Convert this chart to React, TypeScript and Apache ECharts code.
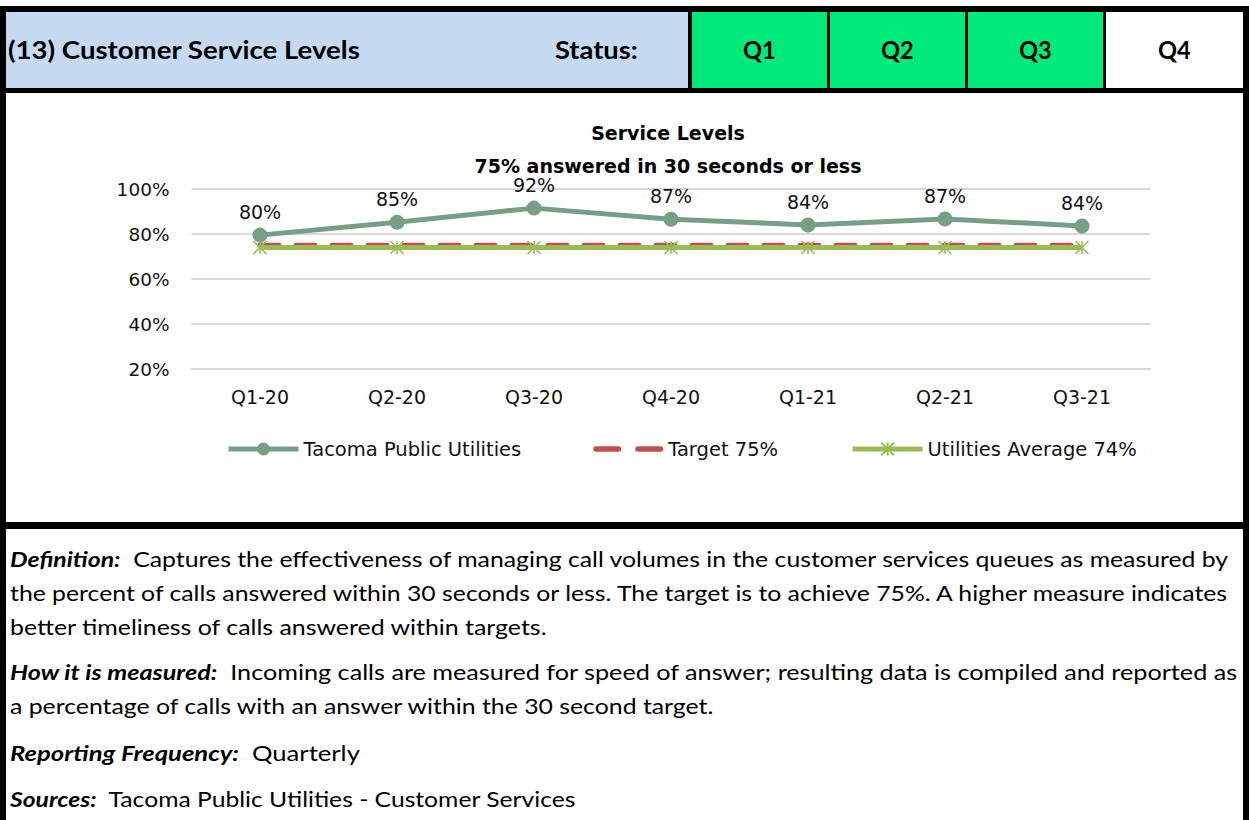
import React, { useEffect, useLayoutEffect, useRef } from "react";
import * as echarts from "echarts";

const categories = ["Q1-20", "Q2-20", "Q3-20", "Q4-20", "Q1-21", "Q2-21", "Q3-21"];
const tacomaValues = [79.5, 85.2, 91.5, 86.6, 84.0, 86.7, 83.6];
const targetValues = [75, 75, 75, 75, 75, 75, 75];
const utilitiesAvgValues = [74, 74, 74, 74, 74, 74, 74];
const seriesNames = ["Tacoma Public Utilities", "Target 75%", "Utilities Average 74%"];
const titleLines = ["Service Levels", "75% answered in 30 seconds or less"];
const quarters = ["Q1", "Q2", "Q3", "Q4"];
const quarterColors = ["#00EA7A", "#00EA7A", "#00EA7A", "#FFFFFF"];

const HTML_FONT = "Lato, 'Noto Sans', sans-serif";
const CHART_FONT = "'DejaVu Sans', 'Noto Sans', sans-serif";
const ASTERISK = "path://M0,0L10,10M10,0L0,10M5,0L5,10";
const TWO_DASHES =
  "path://M2.5,0H23.5A2.5,2.5,0,0,1,23.5,5H2.5A2.5,2.5,0,0,1,2.5,0ZM41.5,0H62.5A2.5,2.5,0,0,1,62.5,5H41.5A2.5,2.5,0,0,1,41.5,0Z";

function Chart() {
  const ref = useRef<HTMLDivElement>(null);
  useEffect(() => {
    if (!ref.current) return;
    const chart = echarts.init(ref.current, undefined, { renderer: "svg" });
    const titleStyle = (text: string) => ({
      text,
      fontFamily: CHART_FONT,
      fontSize: 19,
      fontWeight: "bold",
      fill: "#000",
      textAlign: "center",
      textVerticalAlign: "middle",
    });
    chart.setOption({
      animation: false,
      textStyle: { fontFamily: CHART_FONT },
      graphic: [
        { type: "text", x: 662, y: 40, style: titleStyle(titleLines[0]) },
        { type: "text", x: 662, y: 73, style: titleStyle(titleLines[1]) },
      ],
      grid: { left: 185.5, right: 92.5, top: 96, bottom: 153, containLabel: false },
      legend: {
        left: 215,
        top: 341,
        itemWidth: 70,
        itemHeight: 16,
        itemGap: 72,
        lineStyle: { width: 5 },
        textStyle: { fontSize: 19.5, color: "#111", fontFamily: CHART_FONT },
        data: [
          { name: seriesNames[0] },
          { name: seriesNames[1], icon: TWO_DASHES },
          { name: seriesNames[2] },
        ],
      },
      xAxis: {
        type: "category",
        data: categories,
        boundaryGap: true,
        axisLine: { lineStyle: { color: "#D9D9D9", width: 2 } },
        axisTick: { show: false },
        axisLabel: { fontSize: 19, color: "#111", margin: 18, fontFamily: CHART_FONT },
      },
      yAxis: {
        type: "value",
        min: 20,
        max: 100,
        interval: 20,
        axisLine: { show: false },
        axisTick: { show: false },
        axisLabel: { fontSize: 18.5, color: "#111", margin: 22, formatter: "{value}%", fontFamily: CHART_FONT },
        splitLine: { lineStyle: { color: "#D9D9D9", width: 2 } },
      },
      series: [
        {
          name: seriesNames[0],
          type: "line",
          data: tacomaValues,
          z: 5,
          symbol: "circle",
          symbolSize: 15,
          lineStyle: { color: "#779E88", width: 5 },
          itemStyle: { color: "#779E88" },
          label: {
            show: true,
            position: "top",
            distance: 6,
            fontSize: 19,
            color: "#111",
            fontFamily: CHART_FONT,
            formatter: (p: any) => Math.round(p.value) + "%",
          },
        },
        {
          name: seriesNames[1],
          type: "line",
          data: targetValues,
          z: 2,
          symbol: "none",
          lineStyle: { color: "#C0504D", width: 5, type: [19, 17], cap: "round" },
          itemStyle: { color: "#C0504D" },
        },
        {
          name: seriesNames[2],
          type: "line",
          data: utilitiesAvgValues,
          z: 3,
          symbol: ASTERISK,
          symbolSize: 13,
          lineStyle: { color: "#9BBB59", width: 5 },
          itemStyle: { color: "#9BBB59", borderColor: "#9BBB59", borderWidth: 1.6 },
        },
      ],
    });
    return () => chart.dispose();
  }, []);
  return <div ref={ref} style={{ position: "absolute", left: 6, top: 93, width: 1237, height: 429 }} />;
}

// Text whose rendered width is fitted to the width.
function FitText(props: {
  left: number;
  centerY: number;
  width: number;
  fontSize: number;
  bold?: boolean;
  origin?: "left" | "center";
  children: React.ReactNode;
}) {
  const spanRef = useRef<HTMLSpanElement>(null);
  useLayoutEffect(() => {
    const el = spanRef.current;
    if (!el) return;
    el.style.transform = "none";
    const w = el.offsetWidth;
    if (w > 0) el.style.transform = `scaleX(${props.width / w})`;
  });
  const lh = Math.round(props.fontSize * 1.4);
  const center = props.origin === "center";
  return (
    <div
      style={{
        position: "absolute",
        left: center ? props.left - 200 : props.left,
        width: center ? 400 : undefined,
        textAlign: center ? "center" : "left",
        top: props.centerY - lh / 2,
        lineHeight: lh + "px",
        fontSize: props.fontSize,
        fontWeight: props.bold ? "bold" : "normal",
        whiteSpace: "pre",
      }}
    >
      <span
        ref={spanRef}
        style={{ display: "inline-block", transformOrigin: center ? "center" : "left" }}
      >
        {props.children}
      </span>
    </div>
  );
}

const abs = (l: number, t: number, w: number, h: number, bg: string): React.CSSProperties => ({
  position: "absolute",
  left: l,
  top: t,
  width: w,
  height: h,
  background: bg,
});

const textLines: { y: number; end: number; bold?: string; text: string }[] = [
  { y: 558, end: 1228, bold: "Definition:", text: "  Captures the effectiveness of managing call volumes in the customer services queues as measured by" },
  { y: 592, end: 1227, text: "the percent of calls answered within 30 seconds or less. The target is to achieve 75%. A higher measure indicates" },
  { y: 626, end: 547, text: "better timeliness of calls answered within targets." },
  { y: 671, end: 1237, bold: "How it is measured:", text: "  Incoming calls are measured for speed of answer; resulting data is compiled and reported as" },
  { y: 705, end: 713, text: "a percentage of calls with an answer within the 30 second target." },
  { y: 752, end: 360, bold: "Reporting Frequency:", text: "  Quarterly" },
  { y: 798, end: 575, bold: "Sources:", text: "  Tacoma Public Utilities - Customer Services" },
];

export default function App() {
  const qCells = [
    [692, 135],
    [830, 135],
    [968, 135],
    [1106, 137],
  ];
  return (
    <div
      style={{
        position: "absolute",
        left: 0,
        top: 0,
        width: 1249,
        height: 820,
        background: "#fff",
        overflow: "hidden",
        fontFamily: HTML_FONT,
        color: "#000",
      }}
    >
      <div style={abs(0, 6, 1249, 6, "#000")} />
      <div style={abs(0, 6, 6, 814, "#000")} />
      <div style={abs(1243, 6, 6, 814, "#000")} />
      <div style={abs(6, 12, 682, 76, "#C5D9F1")} />
      <div style={abs(688, 12, 4, 76, "#000")} />
      {qCells.map(([x, w], i) => (
        <div key={i} style={abs(x, 12, w, 76, quarterColors[i])} />
      ))}
      {qCells.map(([x, w], i) => (
        <FitText key={"q" + i} left={x + w / 2} centerY={49} width={33} fontSize={25} bold origin="center">
          {quarters[i]}
        </FitText>
      ))}
      <div style={abs(827, 12, 3, 76, "#000")} />
      <div style={abs(965, 12, 3, 76, "#000")} />
      <div style={abs(1103, 12, 3, 76, "#000")} />
      <FitText left={8} centerY={49} width={352} fontSize={25} bold>
        (13) Customer Service Levels
      </FitText>
      <FitText left={555} centerY={49} width={83} fontSize={25} bold>
        Status:
      </FitText>
      <div style={abs(0, 88, 1249, 5, "#000")} />
      <Chart />
      <div style={abs(0, 522, 1249, 7, "#000")} />
      {textLines.map((l, i) => (
        <FitText key={i} left={10} centerY={l.y} width={l.end - 10} fontSize={21}>
          {l.bold ? (
            <b>
              <i>{l.bold}</i>
            </b>
          ) : null}
          {l.text}
        </FitText>
      ))}
    </div>
  );
}
